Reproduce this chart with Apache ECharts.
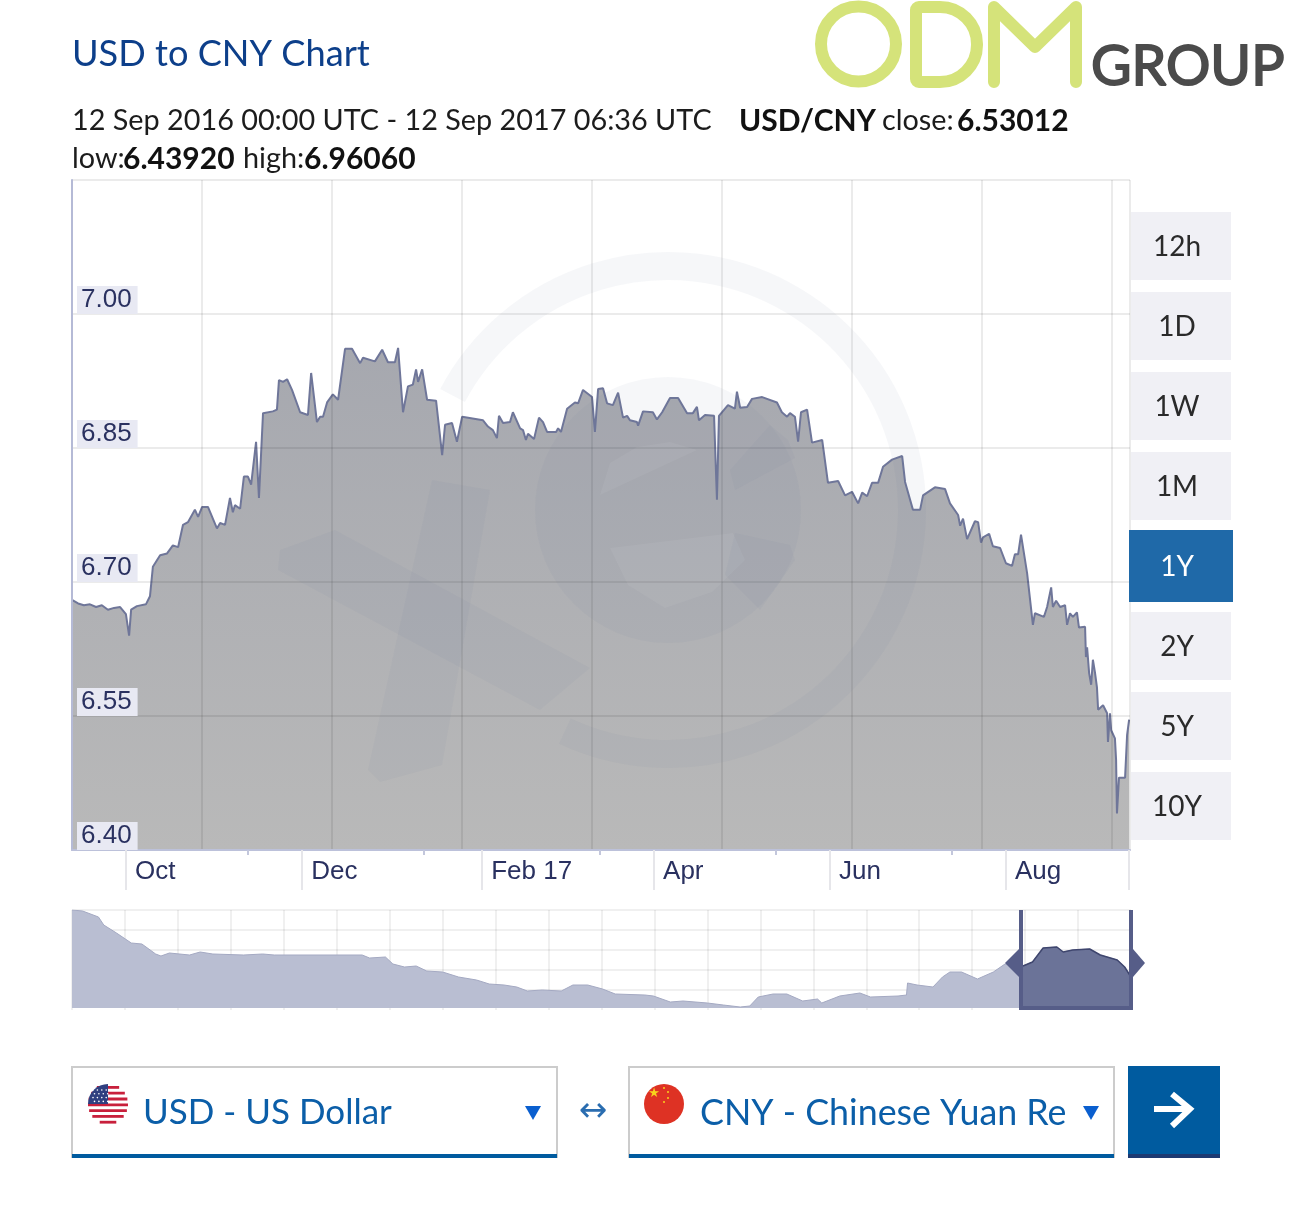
<!DOCTYPE html>
<html>
<head>
<meta charset="utf-8">
<title>USD to CNY Chart</title>
<style>
html, body { margin: 0; padding: 0; background: #fff; }
#chart { width: 1290px; height: 1220px; }
</style>
<script src="https://cdn.jsdelivr.net/npm/echarts@6/dist/echarts.min.js"></script>
</head>
<body>
<div id="chart"></div>
<script>
// days since 12 Sep 2016
var rateDays = [0,2.1,4.1,6.2,8.3,10.3,12.4,14.5,16.6,18.6,19.7,20.4,22.4,25.5,26.9,27.9,30.4,32.8,34.8,36.6,38.3,40,42.4,43.5,44.9,46.9,50,51.1,52.8,54.5,55.5,56.2,58,59.3,60.7,61.8,63.5,64.5,65.9,69.3,70.7,71.4,72.8,74.2,75.9,78.7,81.4,82.5,84.5,85.6,86.6,88,90,91.8,94.2,96.6,99.4,100.4,104.5,107,109,111.4,112.5,114.2,115.9,117.6,118.7,119.4,120.8,122.5,125.6,127.7,128.7,131.1,132.8,134.6,141.8,143.5,145.2,146.6,147.3,148.7,151.1,152.1,154.6,155.6,156.6,157.3,159.4,161.1,162.5,163.9,167,167.7,168.7,170.8,173.5,174.6,176.3,179.4,180.4,181.5,183.2,184.6,186.6,188.4,190.1,191.5,192.5,194.9,195.3,197,200.4,201.8,203.6,206.3,209.1,212.2,214.2,215.6,216.3,218.4,221.5,222.5,223.2,226.3,228.7,229.4,230.5,232.9,234.6,238.1,243.2,244.9,246.7,247.7,249.4,250.5,251.5,253.6,255.3,258.8,260.8,264.3,266.7,269.1,271.2,272.6,274.3,276,278.1,279.8,282.9,286.4,287.4,290.1,292.6,293.6,297.7,301.2,302.9,305.7,306.4,307.4,308.8,311.5,312.6,313.6,314.3,316.4,317.7,320.2,322.2,324.3,325.3,326.4,327.4,329.5,331.5,332.2,335.3,336.4,337.8,338.4,339.5,340.9,342.6,343.3,344.3,345.3,346.7,347.4,349.5,349.8,350.2,350.9,351.6,352.2,352.9,353.6,354,355.7,357.1,357.4,358.1,358.5,359.8,360.2,360.5,361.2,363.3,364,364.7];
var rateValues = [6.680,6.676,6.674,6.675,6.672,6.674,6.669,6.671,6.672,6.664,6.640,6.669,6.673,6.675,6.684,6.717,6.730,6.732,6.741,6.739,6.764,6.767,6.781,6.773,6.784,6.784,6.760,6.766,6.764,6.794,6.778,6.786,6.782,6.818,6.818,6.809,6.857,6.794,6.889,6.891,6.893,6.926,6.924,6.927,6.915,6.890,6.887,6.934,6.879,6.885,6.885,6.901,6.910,6.904,6.961,6.961,6.945,6.951,6.947,6.960,6.946,6.946,6.962,6.890,6.919,6.921,6.938,6.924,6.938,6.904,6.903,6.842,6.876,6.878,6.857,6.885,6.881,6.874,6.870,6.861,6.886,6.878,6.879,6.890,6.872,6.870,6.859,6.866,6.860,6.884,6.879,6.868,6.868,6.872,6.868,6.894,6.901,6.900,6.915,6.907,6.868,6.916,6.917,6.900,6.898,6.912,6.884,6.886,6.881,6.879,6.875,6.891,6.890,6.882,6.890,6.906,6.906,6.889,6.889,6.896,6.881,6.887,6.886,6.792,6.886,6.898,6.894,6.913,6.895,6.896,6.905,6.907,6.901,6.890,6.885,6.889,6.885,6.857,6.890,6.893,6.856,6.859,6.811,6.813,6.797,6.801,6.788,6.800,6.796,6.811,6.811,6.829,6.837,6.841,6.812,6.781,6.781,6.797,6.806,6.804,6.788,6.775,6.763,6.771,6.748,6.768,6.767,6.744,6.750,6.754,6.740,6.738,6.721,6.718,6.731,6.731,6.753,6.710,6.652,6.665,6.661,6.672,6.694,6.672,6.679,6.672,6.674,6.652,6.665,6.661,6.666,6.649,6.650,6.616,6.627,6.598,6.585,6.613,6.599,6.582,6.557,6.562,6.553,6.521,6.553,6.534,6.525,6.501,6.441,6.481,6.481,6.529,6.546];
var rateTicks = [6.40, 6.55, 6.70, 6.85, 7.00];
var monthLabels = ['Oct', 'Dec', 'Feb 17', 'Apr', 'Jun', 'Aug'];
var monthDays = [18.6, 79.4, 141.5, 200.8, 261.5, 322.2];
var midDays = [60.7, 121.4, 182.2, 242.9, 303.6];

// navigator, 10 years of history
var navYears = [0,.10,.25,.30,.42,.56,.66,.79,.84,.92,1.11,1.21,1.33,1.62,1.80,1.91,2.74,2.81,2.96,3.03,3.14,3.25,3.35,3.50,3.65,3.82,3.94,4.08,4.20,4.30,4.44,4.62,4.73,4.87,5.01,5.13,5.41,5.49,5.65,5.77,6.00,6.15,6.31,6.40,6.48,6.62,6.75,6.90,7.04,7.08,7.25,7.44,7.54,7.80,7.88,7.89,7.98,8.13,8.22,8.29,8.40,8.55,8.70,8.81,8.98,9.07,9.17,9.30,9.36,9.45,9.61,9.71,9.87,9.94,10];
var navValues = [7.80,7.782,7.674,7.53,7.386,7.206,7.188,7.008,6.972,7.026,6.99,7.044,7.008,6.99,7.008,6.99,6.99,6.936,6.954,6.828,6.774,6.792,6.702,6.684,6.594,6.54,6.468,6.45,6.414,6.342,6.36,6.342,6.45,6.45,6.378,6.288,6.27,6.252,6.144,6.162,6.126,6.09,6.054,6.072,6.234,6.288,6.288,6.162,6.198,6.126,6.252,6.306,6.234,6.252,6.27,6.486,6.45,6.414,6.594,6.684,6.684,6.558,6.684,6.828,6.792,6.864,7.116,7.134,7.044,7.08,7.098,6.99,6.90,6.774,6.594];
var navStart = 8.98;

var rangeLabels = ['12h', '1D', '1W', '1M', '1Y', '2Y', '5Y', '10Y'];
var activeRange = '1Y';

var chart = echarts.init(document.getElementById('chart'));

var pageFont = 'Lato, sans-serif';
var chartFont = '"Liberation Sans", Arial, sans-serif';

function txt(text, x, y, font, fill, align) {
  return { type: 'text', silent: true, style: { text: text, x: x, y: y, font: font, fill: fill, align: align || 'left', verticalAlign: 'middle' } };
}
function box(x, y, w, h, fill) {
  return { type: 'rect', silent: true, shape: { x: x, y: y, width: w, height: h }, style: { fill: fill } };
}
function poly(points, fill) {
  return { type: 'polygon', silent: true, shape: { points: points }, style: { fill: fill } };
}

var g = [];

// watermark
var wm = 'rgba(105,115,160,0.06)';
var wmLight = 'rgba(255,255,255,0.05)';
g.push({ type: 'arc', silent: true, shape: { cx: 668, cy: 510, r: 244, startAngle: -152 * Math.PI / 180, endAngle: 115 * Math.PI / 180 }, style: { stroke: wm, fill: null, lineWidth: 28 } });
g.push({ type: 'circle', silent: true, shape: { cx: 668, cy: 510, r: 133 }, style: { fill: wm } });
g.push(poly([[770, 425], [788, 440], [795, 458], [735, 490], [730, 470]], wm));
g.push(poly([[600, 495], [610, 463], [637, 447], [670, 442], [697, 450]], wmLight));
g.push(poly([[610, 548], [733, 533], [745, 560], [712, 592], [665, 608], [628, 585]], wmLight));
g.push(poly([[735, 533], [790, 545], [795, 560], [760, 610], [725, 575]], wm));
g.push(poly([[432, 480], [490, 490], [442, 765], [380, 782], [368, 770]], wm));
g.push(poly([[335, 530], [590, 668], [540, 710], [278, 570], [280, 550]], wm));

// header
g.push(txt('USD to CNY Chart', 72, 54, '36.2px ' + pageFont, '#0d3f8a'));
var infoFont = '28.8px ' + pageFont, infoBold = 'bold 30px ' + pageFont;
g.push(txt('12 Sep 2016 00:00 UTC - 12 Sep 2017 06:36 UTC', 72, 121, infoFont, '#1c1c1c'));
g.push(txt('USD/CNY', 739, 121, infoBold, '#111'));
g.push(txt('close:', 882, 121, infoFont, '#1c1c1c'));
g.push(txt('6.53012', 957, 121, infoBold, '#111'));
g.push(txt('low:', 72, 159, infoFont, '#1c1c1c'));
g.push(txt('6.43920', 123, 159, infoBold, '#111'));
g.push(txt('high:', 243, 159, infoFont, '#1c1c1c'));
g.push(txt('6.96060', 304, 159, infoBold, '#111'));

// logo
var lime = '#d5e37a';
g.push({ type: 'circle', silent: true, shape: { cx: 858.5, cy: 44, r: 37.5 }, style: { fill: null, stroke: lime, lineWidth: 12 } });
g.push({ type: 'rect', silent: true, shape: { x: 916, y: 7, width: 61, height: 75, r: [3, 37, 37, 3] }, style: { fill: null, stroke: lime, lineWidth: 12 } });
g.push({ type: 'polyline', silent: true, shape: { points: [[994, 82], [994, 7], [1035, 47], [1076, 7], [1076, 82]] }, style: { fill: null, stroke: lime, lineWidth: 12, lineCap: 'round', lineJoin: 'round' } });
var groupText = txt('GROUP', 1091, 67, '55.5px ' + pageFont, '#4b4b4b');
groupText.style.stroke = '#4b4b4b';
groupText.style.lineWidth = 1.8;
g.push(groupText);

// range buttons
var btnTops = [212, 292, 372, 452, 530, 612, 692, 772];
rangeLabels.forEach(function (label, i) {
  var on = label === activeRange;
  if (on) {
    g.push(box(1129, btnTops[i], 104, 72, '#1f69a8'));
  } else {
    g.push(box(1131, btnTops[i], 100, 68, '#f0f0f5'));
  }
  g.push(txt(label, 1177, btnTops[i] + (on ? 37 : 35), '28px ' + pageFont, on ? '#fff' : '#2a2a2a', 'center'));
});

// navigator selection
var handle = '#565d88';
g.push(box(1019, 910, 4, 100, handle));
g.push(box(1129, 910, 4, 100, handle));
g.push(box(1019, 1006, 114, 4, handle));
g.push(poly([[1005, 963], [1019, 949], [1019, 977]], handle));
g.push(poly([[1133, 949], [1145, 963], [1133, 977]], handle));

// currency pickers
function picker(x, w, label, size, arrowX) {
  g.push({ type: 'rect', silent: true, shape: { x: x + 1, y: 1067, width: w - 2, height: 90 }, style: { fill: '#fff', stroke: '#cccccc', lineWidth: 2 } });
  g.push(box(x + 1, 1154, w - 2, 4, '#005b9f'));
  g.push(txt(label, x + 72, 1113, size + 'px ' + pageFont, '#0b5ea8'));
  g.push(poly([[arrowX, 1106], [arrowX + 16, 1106], [arrowX + 8, 1120]], '#0a5fcf'));
}
picker(71, 487, 'USD - US Dollar', 35, 525);
picker(628, 487, 'CNY - Chinese Yuan Re', 35.8, 1083);
g.push(txt('\u2194', 593, 1112, '34px "DejaVu Sans"', '#2a6db0', 'center'));

// flags
var usCx = 108, usCy = 1104, usR = 20;
g.push({ type: 'circle', silent: true, shape: { cx: usCx, cy: usCy, r: usR }, style: { fill: '#ffffff' } });
for (var s = 0; s < 7; s++) {
  var sy = usCy - usR + 2 + s * 5.8;
  var half = Math.sqrt(Math.max(0, usR * usR - Math.pow(sy + 1.4 - usCy, 2)));
  g.push(box(usCx - half, sy, half * 2, 2.8, '#c8203c'));
}
g.push({ type: 'sector', silent: true, shape: { cx: usCx, cy: usCy, r: usR, r0: 0, startAngle: Math.PI, endAngle: Math.PI * 1.5 }, style: { fill: '#2f3f80' } });
for (var r = 0; r < 4; r++) {
  for (var c = 0; c < 4; c++) {
    g.push({ type: 'circle', silent: true, shape: { cx: 93 + c * 4.4 + (r % 2) * 1.5, cy: 1090 + r * 3.8, r: 0.8 }, style: { fill: '#fff' } });
  }
}
g.push({ type: 'circle', silent: true, shape: { cx: 664, cy: 1104, r: 20 }, style: { fill: '#de3224' } });
g.push(txt('\u2605', 654, 1094, '13px "DejaVu Sans"', '#f8d21c', 'center'));
[[664, 1088], [668, 1092], [668, 1098], [664, 1102]].forEach(function (p) {
  g.push({ type: 'circle', silent: true, shape: { cx: p[0], cy: p[1], r: 1 }, style: { fill: '#f8d21c' } });
});

// go button
g.push(box(1128, 1066, 92, 92, '#005b9f'));
g.push(box(1128, 1154, 92, 4, '#1d3a72'));
g.push({ type: 'line', silent: true, shape: { x1: 1154, y1: 1109, x2: 1188, y2: 1109 }, style: { stroke: '#fff', lineWidth: 6 } });
g.push({ type: 'polyline', silent: true, shape: { points: [[1172, 1094], [1190, 1109], [1172, 1126]] }, style: { fill: null, stroke: '#fff', lineWidth: 6 } });

// everything drawn by hand sits above the series
g.forEach(function (el) { el.z = 10; });

var axisInk = '#2a3160';

var option = {
  animation: false,
  backgroundColor: '#fff',
  graphic: { elements: g },
  grid: [
    { left: 72, top: 180, width: 1058, height: 670 },
    { left: 72, top: 910, width: 1059, height: 100 }
  ],
  xAxis: [
    {
      gridIndex: 0, type: 'value', position: 'bottom', min: 0, max: 365, interval: 44.85, z: 3,
      axisLine: { show: true, lineStyle: { color: '#bcc1da', width: 2 } },
      axisTick: { show: false }, axisLabel: { show: false },
      splitLine: { show: true, lineStyle: { color: 'rgba(0,0,0,0.08)', width: 2 } }
    },
    {
      gridIndex: 0, type: 'value', position: 'bottom', min: 0, max: 365, z: 3,
      axisLine: { show: false },
      axisTick: { show: true, customValues: monthDays.concat([364.7]), length: 40, lineStyle: { color: '#e6e6ea', width: 2 } },
      axisLabel: {
        show: true, customValues: monthDays, align: 'left', margin: 9, padding: [0, 0, 0, 9],
        color: axisInk, fontFamily: chartFont, fontSize: 26,
        formatter: function (v) { return monthLabels[monthDays.indexOf(v)]; }
      },
      splitLine: { show: false }
    },
    {
      gridIndex: 0, type: 'value', position: 'bottom', min: 0, max: 365, z: 3,
      axisLine: { show: false },
      axisTick: { show: true, customValues: midDays, length: 5, lineStyle: { color: '#c3c7dc', width: 2 } },
      axisLabel: { show: false }, splitLine: { show: false }
    },
    {
      gridIndex: 1, type: 'value', position: 'bottom', min: 0, max: 10, interval: 0.5, z: 1,
      axisLine: { show: false }, axisTick: { show: false }, axisLabel: { show: false },
      splitLine: { show: true, lineStyle: { color: 'rgba(0,0,0,0.06)', width: 2 } }
    }
  ],
  yAxis: [
    {
      gridIndex: 0, type: 'value', min: 6.40, max: 7.15, interval: 0.15, z: 3,
      axisLine: { show: true, lineStyle: { color: '#b5bad6', width: 2 } },
      axisTick: { show: false },
      axisLabel: {
        show: true, inside: true, customValues: rateTicks, margin: 5, align: 'left', verticalAlign: 'bottom',
        color: axisInk, fontFamily: chartFont, fontSize: 26, backgroundColor: '#e8e9f3', padding: [1, 6, 1, 4],
        formatter: function (v) { return v.toFixed(2); }
      },
      splitLine: { show: true, lineStyle: { color: 'rgba(0,0,0,0.08)', width: 2 } }
    },
    {
      gridIndex: 1, type: 'value', min: 6.0, max: 7.8, interval: 0.36, z: 1,
      axisLine: { show: false },
      axisTick: { show: false }, axisLabel: { show: false },
      splitLine: { show: true, showMinLine: false, lineStyle: { color: 'rgba(0,0,0,0.06)', width: 2 } }
    }
  ],
  series: [
    {
      type: 'line', xAxisIndex: 0, yAxisIndex: 0, showSymbol: false, z: 2,
      data: rateDays.map(function (d, i) { return [d, rateValues[i]]; }),
      lineStyle: { color: '#6f7699', width: 2 },
      areaStyle: {
        opacity: 1,
        color: new echarts.graphic.LinearGradient(0, 0, 0, 1, [
          { offset: 0, color: '#a6a8af' },
          { offset: 1, color: '#b9b9b9' }
        ])
      }
    },
    {
      type: 'line', xAxisIndex: 3, yAxisIndex: 1, showSymbol: false, z: 2,
      data: navYears.map(function (d, i) { return [d, navValues[i]]; }),
      lineStyle: { color: '#a4a9c2', width: 1 },
      areaStyle: { opacity: 1, color: '#b9bed2', origin: 6.036 }
    },
    {
      type: 'line', xAxisIndex: 3, yAxisIndex: 1, showSymbol: false, z: 4,
      data: navYears.map(function (d, i) { return [d, navValues[i]]; }).filter(function (p) { return p[0] >= navStart; }),
      lineStyle: { color: '#3f466e', width: 1.5 },
      areaStyle: { opacity: 1, color: '#6b7398', origin: 6.036 }
    }
  ]
};
chart.setOption(option);
</script>
</body>
</html>
